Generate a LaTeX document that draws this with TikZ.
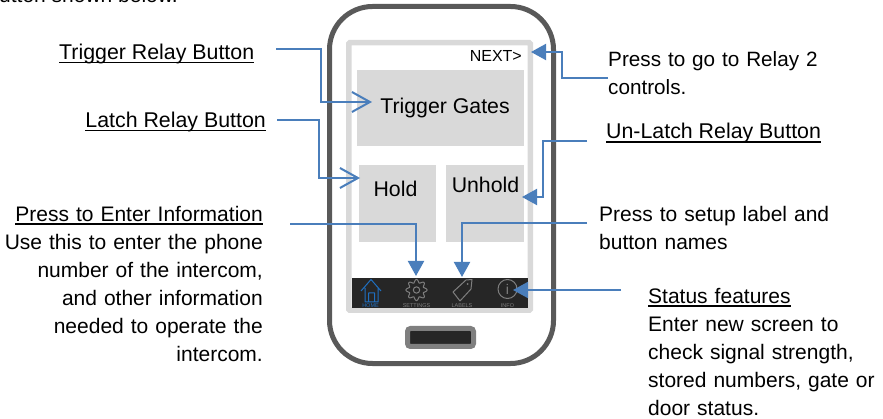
\documentclass[tikz,border=0pt]{standalone}
\usepackage{fontspec}
\setmainfont{Liberation Sans}
\usetikzlibrary{arrows.meta}
\definecolor{arrowblue}{HTML}{4A7EBB}
\definecolor{phonegray}{HTML}{595959}
\definecolor{screengray}{HTML}{D9D9D9}
\definecolor{bargray}{HTML}{262626}
\definecolor{iconblue}{HTML}{1F6FC0}
\definecolor{icongray}{HTML}{7F7F7F}
\newcommand{\ulbox}[1]{\setbox0\hbox{#1}\leavevmode\rlap{\raisebox{-3.6pt}{\rule{\wd0}{1.5pt}}}\box0 }
\tikzset{
  lbl/.style={inner sep=0pt,font=\fontsize{21}{28}\selectfont,text=black},
  lblbig/.style={lbl,font=\fontsize{21.35}{28}\selectfont},
  lblr/.style={lbl,align=right},
  lbll/.style={lbl,align=left},
  btn/.style={fill=screengray,draw=none,inner sep=0pt},
  btntxt/.style={inner sep=0pt,font=\fontsize{21.3}{24}\selectfont},
  conn/.style={draw=arrowblue,line width=2pt,-{Triangle[length=15pt,width=16pt]}},
  connopen/.style={draw=arrowblue,line width=2pt,-{Straight Barb[length=18pt,width=20pt,line width=2pt]}},
  tinytxt/.style={inner sep=0pt,font=\fontsize{5.5}{6}\selectfont},
  icon/.style={draw=icongray,line width=1pt,fill=none,line join=round},
}
\begin{document}
\begin{tikzpicture}[x=1pt,y=-1pt]
\useasboundingbox (0,0) rectangle (883,419);
% phone
\node[draw=phonegray,line width=5pt,rounded corners=43pt,minimum width=224pt,minimum height=357pt,inner sep=0pt] (phone) at (441.5,185) {};
\node[draw=screengray,line width=5.5pt,minimum width=181.5pt,minimum height=267.5pt,inner sep=0pt,rounded corners=1pt] (screen) at (439.5,176.5) {};
\node[btn,minimum width=167pt,minimum height=76pt] (trigger) at (440.5,108) {};
\node[btntxt,anchor=base] (trigtxt) at (445,114) {Trigger Gates};
\node[btn,minimum width=77pt,minimum height=77pt] (hold) at (397.5,203.5) {};
\node[btntxt,anchor=base] (holdtxt) at (395.5,197) {Hold};
\node[btn,minimum width=78pt,minimum height=77pt] (unhold) at (485,203.5) {};
\node[btntxt,anchor=base] (unholdtxt) at (485.5,193) {Unhold};
\node[fill=bargray,minimum width=176pt,minimum height=30pt,inner sep=0pt] (bar) at (440,293) {};
\node[draw=icongray,fill=bargray,line width=5pt,rounded corners=3pt,minimum width=66pt,minimum height=18pt,inner sep=0pt] (homebtn) at (440.5,337.5) {};
\node[inner sep=0pt,anchor=base east,font=\fontsize{16}{18}\selectfont] (next) at (522,62) {NEXT>};
% bar icons
\draw[draw=iconblue,line width=1pt,line join=round] (361,291) -- (371,279.5) -- (381,291) (365,288) -- (365,302) -- (378,302) -- (378,288) (368.5,302) -- (368.5,293) -- (374.5,293) -- (374.5,302);
\node[tinytxt,text=iconblue] (homet) at (370.5,305.5) {HOME};
\draw[icon] plot[domain=0:360,samples=97,smooth] ({416.5+(9+1.6*cos(8*\x))*cos(\x)},{290+(9+1.6*cos(8*\x))*sin(\x)});
\draw[icon] (416.5,290) circle[radius=3.2pt];
\node[tinytxt,text=icongray] (sett) at (416.5,305.5) {SETTINGS};
\draw[icon] (453,292) -- (466,280) -- (472,279.5) -- (471,289) -- (460,301) -- cycle;
\fill[icongray] (467.5,284) circle[radius=1pt];
\node[tinytxt,text=icongray] (labt) at (462,305.5) {LABELS};
\draw[icon] (507.5,289) circle[radius=9.5pt];
\node[inner sep=0pt,text=icongray,font=\fontsize{14}{14}\selectfont] (inf) at (507.5,289) {i};
\node[tinytxt,text=icongray] (inft) at (507.5,305.5) {INFO};
% labels
\node[lbl,anchor=base east] (top) at (178,3) {button shown below.};
\node[lblbig,anchor=base west] (ltrig) at (59,59.5) {\ulbox{Trigger Relay Button}};
\node[lblbig,anchor=base east] (llatch) at (266,127.5) {\ulbox{Latch Relay Button}};
\node[lblr,anchor=north east,text width=270pt] (lenter) at (263,201.4) {\strut\ulbox{Press to Enter Information}\\Use this to enter the phone\\number of the intercom,\\and other information\\needed to operate the\\intercom.};
\node[lbll,anchor=north west,text width=230pt,font=\fontsize{20.7}{28}\selectfont] (lnext) at (608,46.4) {\strut Press to go to Relay 2\\controls.};
\node[lblbig,anchor=base west] (lun) at (606,139) {\ulbox{Un-Latch Relay Button}};
\node[lbll,anchor=north west,text width=260pt] (lsetup) at (599,201.4) {\strut Press to setup label and\\button names};
\node[lbll,anchor=north west,text width=235pt] (lstatus) at (648,283.4) {\strut\ulbox{Status features}\\Enter new screen to\\check signal strength,\\stored numbers, gate or\\door status.};
% connectors
\coordinate (c1) at (276,49); \coordinate (c1a) at (372,102);
\draw[connopen] (c1) -- (321,49) -- (321,102) -- (c1a);
\coordinate (c2) at (277,120); \coordinate (c2a) at (360,178);
\draw[connopen] (c2) -- (319,120) -- (319,178) -- (c2a);
\coordinate (c3) at (608,78); \coordinate (c3a) at (531,52);
\draw[conn] (c3) -- (562,78) -- (562,52) -- (c3a);
\coordinate (c4) at (587,141); \coordinate (c4a) at (522,197);
\draw[conn] (c4) -- (543,141) -- (543,197) -- (c4a);
\coordinate (c5) at (587,223); \coordinate (c5a) at (462,277);
\draw[conn] (c5) -- (462,223) -- (c5a);
\coordinate (c6) at (290,224); \coordinate (c6a) at (416,276);
\draw[conn] (c6) -- (416,224) -- (c6a);
\coordinate (c7) at (621,290); \coordinate (c7a) at (513,290);
\draw[conn] (c7) -- (c7a);
\end{tikzpicture}
\end{document}
